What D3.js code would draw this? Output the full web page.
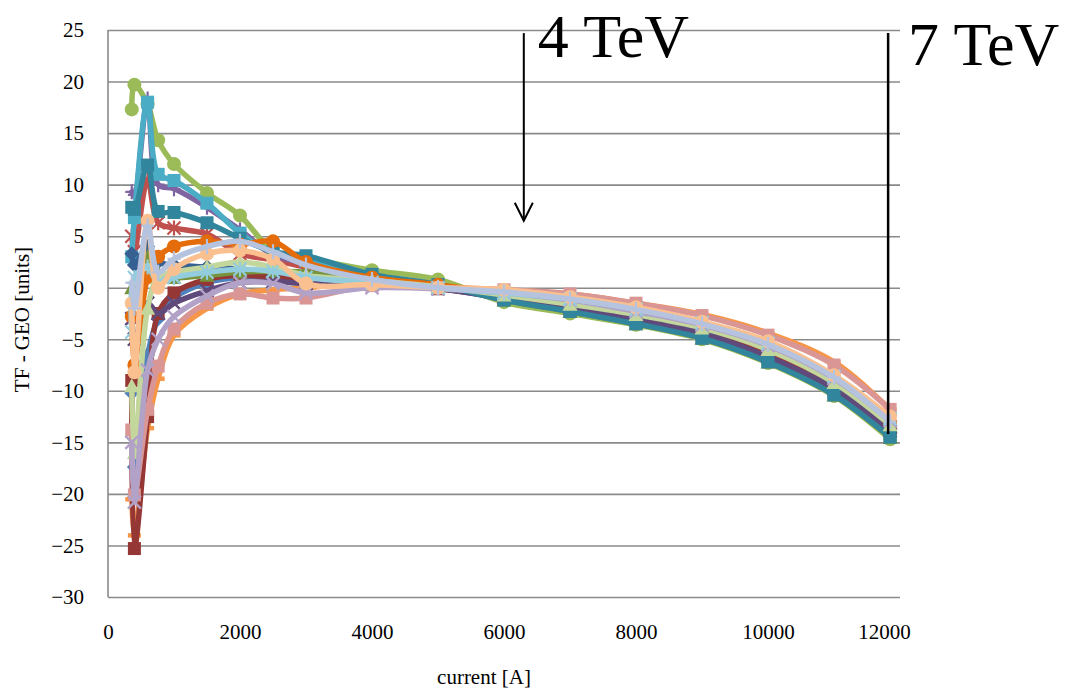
<!DOCTYPE html>
<html>
<head>
<meta charset="utf-8">
<script src="https://cdn.jsdelivr.net/npm/d3@7"></script>
<style>
  html, body { margin: 0; padding: 0; background: #fff; }
  svg { display: block; font-family: "Liberation Serif", "Times New Roman", serif; }
</style>
</head>
<body>
<svg id="chart" width="1073" height="690"></svg>
<script>
// Measurement currents [A]
const currents = [360, 400, 600, 760, 1000, 1500, 2000, 2500, 3000, 4000, 5000, 6000, 7000, 8000, 9000, 10000, 11000, 11850];

// TF - GEO [units] per magnet, one array per measured series
const series01 = [-10.2, -17.4, -6.5, -3.0, -1.0, 0.5, 1.0, 0.9, 0.8, 0.6, 0.0, -0.9, -1.8, -2.9, -4.2, -6.4, -9.6, -13.7];
const series02 = [5.0, 3.5, 10.5, 6.3, 5.8, 5.2, 3.3, 2.7, 2.0, 0.9, 0.2, -0.8, -1.7, -2.8, -4.1, -6.3, -9.4, -13.5];
const series03 = [17.3, 19.7, 17.8, 14.3, 12.0, 9.2, 7.0, 3.6, 2.9, 1.7, 0.8, -1.4, -2.5, -3.6, -5.0, -7.3, -10.5, -14.7];
const series04 = [9.3, 9.0, 18.3, 10.0, 9.6, 7.8, 5.6, 3.2, 2.4, 1.1, 0.2, -1.0, -2.1, -3.2, -4.6, -6.9, -10.0, -14.0];
const series05 = [3.0, 6.8, 18.0, 11.0, 10.4, 8.2, 5.3, 3.4, 2.6, 1.2, 0.3, -1.1, -2.2, -3.4, -4.8, -7.1, -10.3, -14.3];
const series06 = [-20.5, -24.0, -13.6, -8.8, -4.6, -2.0, -0.6, -0.2, 0.0, 0.5, 0.1, -0.2, -0.6, -1.5, -2.6, -4.4, -7.2, -11.8];
const series07 = [3.3, 2.2, 4.0, 2.5, 2.2, 2.0, 1.8, 1.5, 1.2, 0.6, 0.0, -1.1, -2.2, -3.3, -4.7, -7.0, -10.1, -14.1];
const series08 = [-9.0, -25.3, -12.5, -2.5, -0.5, 0.8, 1.2, 1.0, 0.8, 0.4, -0.1, -0.9, -1.9, -3.0, -4.3, -6.6, -9.7, -13.8];
const series09 = [0.0, -1.0, 3.0, 1.5, 1.0, 1.2, 1.5, 1.6, 1.5, 1.0, 0.3, -1.2, -2.3, -3.5, -4.9, -7.2, -10.4, -14.5];
const series10 = [-3.0, -5.0, -1.5, -2.5, -1.5, -0.3, 0.5, 0.6, 0.4, 0.3, -0.1, -1.0, -2.0, -3.1, -4.4, -6.7, -9.8, -13.9];
const series11 = [7.8, 7.6, 11.9, 7.4, 7.3, 6.3, 4.8, 3.5, 3.1, 1.3, 0.3, -1.2, -2.3, -3.5, -4.9, -7.2, -10.4, -14.5];
const series12 = [-2.8, -7.5, 1.0, 3.0, 4.0, 4.5, 4.2, 4.5, 2.5, 1.0, 0.3, -0.6, -1.4, -2.4, -3.8, -5.8, -9.0, -13.1];
const series13 = [-13.8, -20.1, -11.8, -7.6, -4.0, -1.5, -0.6, -1.0, -1.0, 0.2, 0.0, -0.2, -0.6, -1.5, -2.7, -4.6, -7.5, -11.8];
const series14 = [-9.5, -16.0, -2.0, 1.0, 1.5, 2.0, 2.5, 2.0, 1.2, 0.7, 0.1, -0.7, -1.6, -2.6, -3.9, -6.0, -9.2, -13.3];
const series15 = [-15.0, -20.8, -8.0, -5.0, -2.8, -0.8, 0.5, 0.4, -0.5, 0.0, -0.1, -0.5, -1.2, -2.3, -3.6, -5.6, -8.8, -12.9];
const series16 = [-4.3, 1.0, 2.0, 0.5, 1.0, 1.5, 1.8, 1.6, 1.0, 0.5, 0.0, -0.5, -1.1, -2.1, -3.4, -5.4, -8.6, -12.7];
const series17 = [-1.5, -8.2, 6.5, 0.0, 1.8, 3.3, 3.6, 2.8, 0.4, 0.3, 0.0, -0.2, -0.9, -1.9, -3.3, -5.2, -8.5, -12.5];
const series18 = [0.5, -2.0, 6.0, 1.5, 2.8, 4.0, 4.5, 3.5, 2.2, 0.8, 0.0, -0.4, -1.1, -2.1, -3.5, -5.5, -8.7, -13.0];

const allSeries = [series01, series02, series03, series04, series05, series06,
                   series07, series08, series09, series10, series11, series12,
                   series13, series14, series15, series16, series17, series18];

// Axis ticks
const xTicks = [0, 2000, 4000, 6000, 8000, 10000, 12000];
const yTicks = [25, 20, 15, 10, 5, 0, -5, -10, -15, -20, -25, -30];

// Energy markers: current [A], top and bottom of the marker line [units]
const energyLabels = ["4 TeV", "7 TeV"];
const energyCurrents = [6300, 11820];
const energyTop = [24.7, 24.7];
const energyBottom = [6.5, -14.2];

// ---- styling (kept apart from the values) ----
const seriesColors = ["#4F81BD", "#C0504D", "#9BBB59", "#8064A2", "#4BACC6", "#F79646",
                      "#376092", "#953735", "#77933C", "#604A7B", "#31859C", "#E46C0A",
                      "#D99694", "#C3D69B", "#B3A2C7", "#93CDDD", "#FAC090", "#B6C3DF"];
const seriesMarkers = ["diamond", "star", "circle", "plus", "square", "dash",
                       "diamond", "square", "triangle", "x", "square", "circle",
                       "square", "triangle", "x", "star", "circle", "plus"];

const svg = d3.select("#chart");
const plot = { left: 108, right: 900, top: 30, bottom: 597 };

const x = d3.scaleLinear().domain([0, 12000]).range([plot.left, plot.right]);
const y = d3.scaleLinear().domain([-30, 25]).range([plot.bottom, plot.top]);

// horizontal gridlines
svg.append("g")
  .attr("class", "grid")
  .call(d3.axisLeft(y).tickValues(yTicks).tickSize(-(plot.right - plot.left)).tickFormat(""))
  .attr("transform", `translate(${plot.left},0)`)
  .call(g => g.select(".domain").remove())
  .call(g => g.selectAll("line").attr("stroke", "#8a8a8a").attr("stroke-width", 1.6));

// vertical axis line
svg.append("line")
  .attr("x1", plot.left).attr("x2", plot.left)
  .attr("y1", plot.top).attr("y2", plot.bottom)
  .attr("stroke", "#8a8a8a").attr("stroke-width", 1.6);

// y tick labels
svg.append("g")
  .attr("transform", `translate(${plot.left},0)`)
  .call(d3.axisLeft(y).tickValues(yTicks).tickSize(0).tickPadding(24).tickFormat(d3.format("d")))
  .call(g => g.select(".domain").remove())
  .call(g => g.selectAll("text")
    .attr("font-family", "'Liberation Serif', serif")
    .attr("font-size", 21).attr("fill", "#000"));

// x tick labels
svg.append("g")
  .attr("transform", `translate(0,${plot.bottom})`)
  .call(d3.axisBottom(x).tickValues(xTicks).tickSize(0).tickPadding(27).tickFormat(d3.format("d")))
  .call(g => g.select(".domain").remove())
  .call(g => g.selectAll("text")
    .attr("font-family", "'Liberation Serif', serif")
    .attr("font-size", 21).attr("fill", "#000")
    .attr("dx", d => d === 12000 ? -16 : 0));

// axis titles
svg.append("text")
  .attr("x", (plot.left + plot.right) / 2 - 20).attr("y", 684)
  .attr("text-anchor", "middle").attr("font-size", 21)
  .text("current [A]");

svg.append("text")
  .attr("transform", `translate(29,${(plot.top + plot.bottom) / 2 + 6}) rotate(-90)`)
  .attr("text-anchor", "middle").attr("font-size", 21)
  .text("TF - GEO [units]");

// series lines
const line = d3.line()
  .x((d, i) => x(currents[i]))
  .y(d => y(d))
  .curve(d3.curveCatmullRom.alpha(0.5));

const markerSize = 13;
function drawMarker(g, type, color, cx, cy) {
  const h = markerSize / 2;
  switch (type) {
    case "circle":
      g.append("circle").attr("cx", cx).attr("cy", cy).attr("r", h + 0.5).attr("fill", color);
      break;
    case "square":
      g.append("rect").attr("x", cx - h).attr("y", cy - h).attr("width", markerSize).attr("height", markerSize).attr("fill", color);
      break;
    case "diamond":
      g.append("path").attr("d", `M${cx},${cy - h - 1}L${cx + h + 1},${cy}L${cx},${cy + h + 1}L${cx - h - 1},${cy}Z`).attr("fill", color);
      break;
    case "triangle":
      g.append("path").attr("d", `M${cx},${cy - h - 1}L${cx + h + 1},${cy + h}L${cx - h - 1},${cy + h}Z`).attr("fill", color);
      break;
    case "x":
      g.append("path").attr("d", `M${cx - h},${cy - h}L${cx + h},${cy + h}M${cx - h},${cy + h}L${cx + h},${cy - h}`)
        .attr("stroke", color).attr("stroke-width", 2.4);
      break;
    case "star":
      g.append("path").attr("d", `M${cx - h},${cy - h}L${cx + h},${cy + h}M${cx - h},${cy + h}L${cx + h},${cy - h}M${cx},${cy - h - 1}L${cx},${cy + h + 1}`)
        .attr("stroke", color).attr("stroke-width", 2.2);
      break;
    case "plus":
      g.append("path").attr("d", `M${cx},${cy - h - 1}L${cx},${cy + h + 1}M${cx - h},${cy}L${cx + h},${cy}`)
        .attr("stroke", color).attr("stroke-width", 2.2);
      break;
    case "dash":
      g.append("rect").attr("x", cx - h).attr("y", cy - 2).attr("width", markerSize).attr("height", 4.5).attr("fill", color);
      break;
  }
}

const seriesLayer = svg.append("g");
allSeries.forEach((vals, s) => {
  const g = seriesLayer.append("g");
  const color = seriesColors[s];
  g.append("path")
    .attr("d", line(vals))
    .attr("fill", "none")
    .attr("stroke", color)
    .attr("stroke-width", 5.5)
    .attr("stroke-linejoin", "round")
    .attr("stroke-linecap", "round");
  vals.forEach((v, i) => drawMarker(g, seriesMarkers[s], color, x(currents[i]), y(v)));
});

// energy annotations
const ann = svg.append("g");
// 4 TeV: arrow pointing down
{
  const ax = x(energyCurrents[0]);
  const y0 = y(energyTop[0]), y1 = y(energyBottom[0]);
  ann.append("line").attr("x1", ax).attr("x2", ax).attr("y1", y0).attr("y2", y1)
    .attr("stroke", "#000").attr("stroke-width", 2);
  ann.append("path").attr("d", `M${ax - 9},${y1 - 18}L${ax},${y1}L${ax + 9},${y1 - 18}`)
    .attr("fill", "none").attr("stroke", "#000").attr("stroke-width", 2);
  ann.append("text").attr("x", ax + 14).attr("y", 57)
    .attr("font-size", 62).attr("fill", "#000").text(energyLabels[0]);
}
// 7 TeV: vertical line
{
  const ax = x(energyCurrents[1]);
  ann.append("line").attr("x1", ax).attr("x2", ax)
    .attr("y1", y(energyTop[1])).attr("y2", y(energyBottom[1]))
    .attr("stroke", "#000").attr("stroke-width", 2.5);
  ann.append("text").attr("x", ax + 20).attr("y", 65)
    .attr("font-size", 62).attr("fill", "#000").text(energyLabels[1]);
}
</script>
</body>
</html>
